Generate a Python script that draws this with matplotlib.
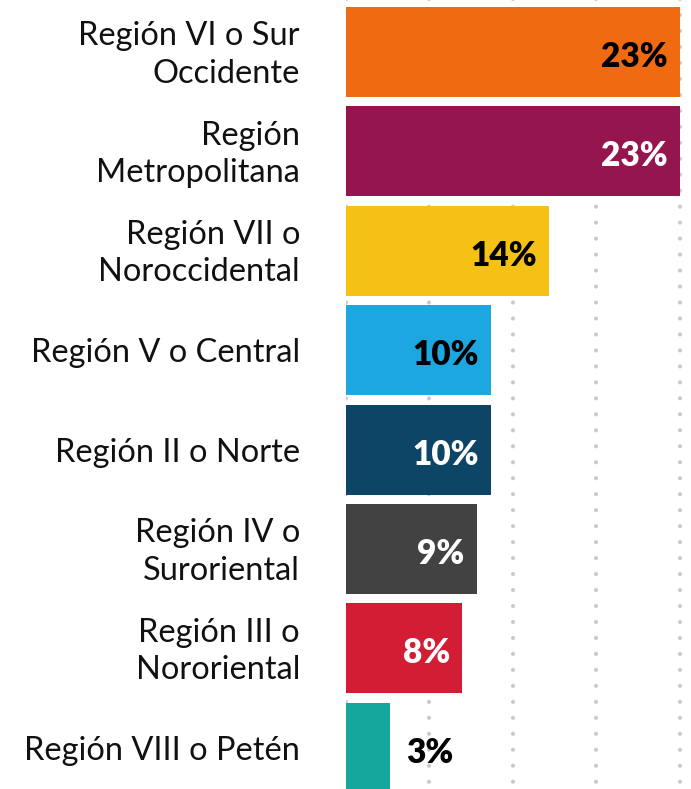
import matplotlib
matplotlib.use("Agg")
import matplotlib.pyplot as plt
import numpy as np

categories = ["Región VI o Sur\nOccidente", "Región\nMetropolitana", "Región VII o\nNoroccidental",
              "Región V o Central", "Región II o Norte", "Región IV o\nSuroriental",
              "Región III o\nNororiental", "Región VIII o Petén"]
values = [23, 23, 14, 10, 10, 9, 8, 3]
value_labels = ["23%", "23%", "14%", "10%", "10%", "9%", "8%", "3%"]
colors = ["#EF6A10", "#95154F", "#F5C115", "#1CA7E1", "#0D4566", "#424242", "#D21D35", "#14A79D"]
text_colors = ["black", "white", "black", "black", "white", "white", "white", "black"]

plt.rcParams['lines.scale_dashes'] = False
W, H = 691, 789
fig = plt.figure(figsize=(W / 100, H / 100), dpi=100)

x0 = 346
pxper = 14.5
ax = fig.add_axes([x0 / W, 0, 1 - x0 / W, 1])
ax.set_xlim(0, (W - x0) / pxper)
top_c, pitch = 52, 99.4
ax.set_ylim((H - top_c) / pitch, -top_c / pitch)
ax.axis('off')

ypos = np.arange(len(values))
# dotted grid
for g in np.linspace(0, max(values), 5):
    ln, = ax.plot([g, g], [-1, len(values) + 1], color="#C9C9C9", lw=3.0,
                  solid_capstyle='round', dash_capstyle='round', zorder=0)
    ln.set_dashes([0.001, 11.5])

ax.barh(ypos, values, height=0.905, color=colors, zorder=2, edgecolor='none')

font = "Lato"
px = 0.72
for i, (v, lab, tc) in enumerate(zip(values, value_labels, text_colors)):
    if v >= 5:
        ax.annotate(lab, (v, i), xytext=(-12 * px, -5 * px), textcoords='offset points',
                    ha='right', va='center', color=tc, fontsize=24, fontweight='heavy',
                    family=font, zorder=3)
    else:
        ax.annotate(lab, (v, i), xytext=(17 * px, -5 * px), textcoords='offset points',
                    ha='left', va='center', color=tc, fontsize=24, fontweight='heavy',
                    family=font, zorder=3)

for i, c in enumerate(categories):
    fig.text(300 / W, 1 - (top_c + 3 + pitch * i) / H, c, ha='right', va='center',
             multialignment='right', fontsize=23.4, family=font, color="#111111",
             linespacing=1.3)

fig.savefig("out.png", dpi=100)
